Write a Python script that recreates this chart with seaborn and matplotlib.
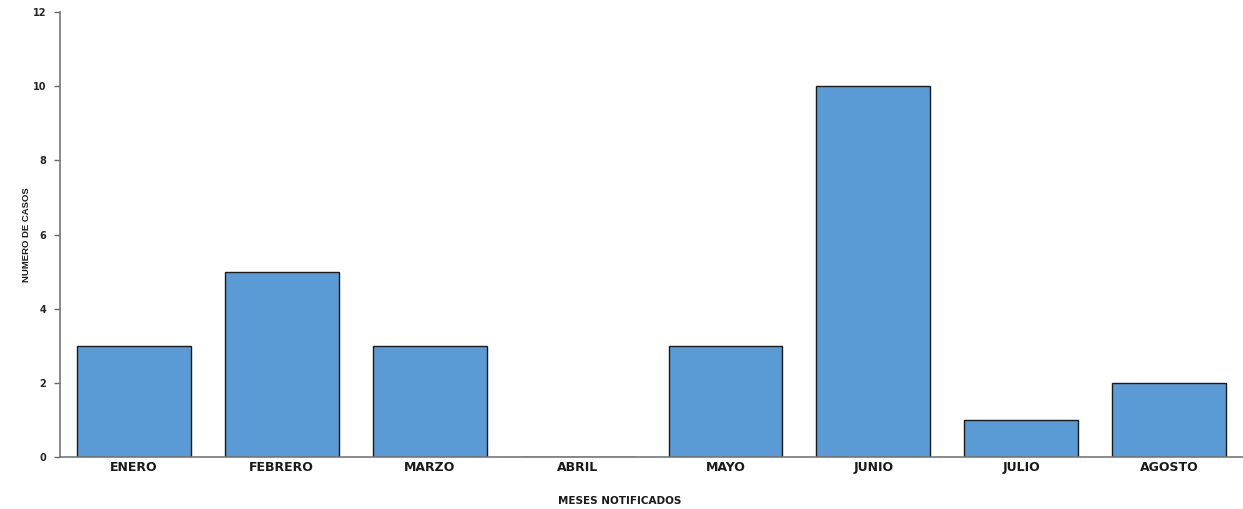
import matplotlib
matplotlib.use("Agg")
import matplotlib.pyplot as plt
import seaborn as sns
import pandas as pd
import numpy as np

meses = ["ENERO", "FEBRERO", "MARZO", "ABRIL", "MAYO", "JUNIO", "JULIO", "AGOSTO"]
casos = [3, 5, 3, 0, 3, 10, 1, 2]
y_ticks = [0, 2, 4, 6, 8, 10, 12]

sns.set_theme(style="white")
plt.rcParams['font.family'] = ['Liberation Sans', 'DejaVu Sans']

df = pd.DataFrame({"mes": meses, "casos": casos})

fig = plt.figure(figsize=(12.43, 5.09), dpi=100)
ax = fig.add_axes([60/1243, 1 - 457/509, 1 - 60/1243, (457 - 12)/509])
sns.barplot(data=df, x="mes", y="casos", color="#5B9BD5", saturation=1,
            width=0.77, edgecolor="#1a1a1a", linewidth=1.0, ax=ax)

ax.set_xlim(-0.5, len(meses) - 0.5)
ax.set_ylim(0, 12)
ax.set_yticks(y_ticks)
ax.set_yticklabels([str(v) for v in y_ticks], fontsize=7, fontweight="bold",
                   family=["DejaVu Sans"])
ax.set_xticks(range(len(meses)))
ax.set_xticklabels(meses, fontsize=9, fontweight="bold", family=["DejaVu Sans"],
                   color="#1a1a1a")
ax.set_xticks(np.arange(0.5, len(meses) - 0.5, 1), minor=True)
ax.tick_params(axis="x", which="major", length=0, pad=3)
ax.tick_params(axis="x", which="minor", length=4, direction="out", color="#666666", width=1)
ax.tick_params(axis="y", which="major", length=4, direction="out", left=True, color="#666666", width=1, pad=6)

for s in ["top", "right"]:
    ax.spines[s].set_visible(False)
for s in ["left", "bottom"]:
    ax.spines[s].set_color("#777777")
    ax.spines[s].set_linewidth(1.2)

ax.set_xlabel("MESES NOTIFICADOS", fontsize=7.5, fontweight="bold",
              family=["DejaVu Sans"], color="#1a1a1a")
ax.xaxis.set_label_coords((620 - 60) / 1183, -(496 - 457) / 445)
ax.set_ylabel("NUMERO DE CASOS", fontsize=6.8, fontweight="bold", labelpad=1,
              color="#1a1a1a")
ax.grid(False)

fig.savefig("out.png", dpi=100)
